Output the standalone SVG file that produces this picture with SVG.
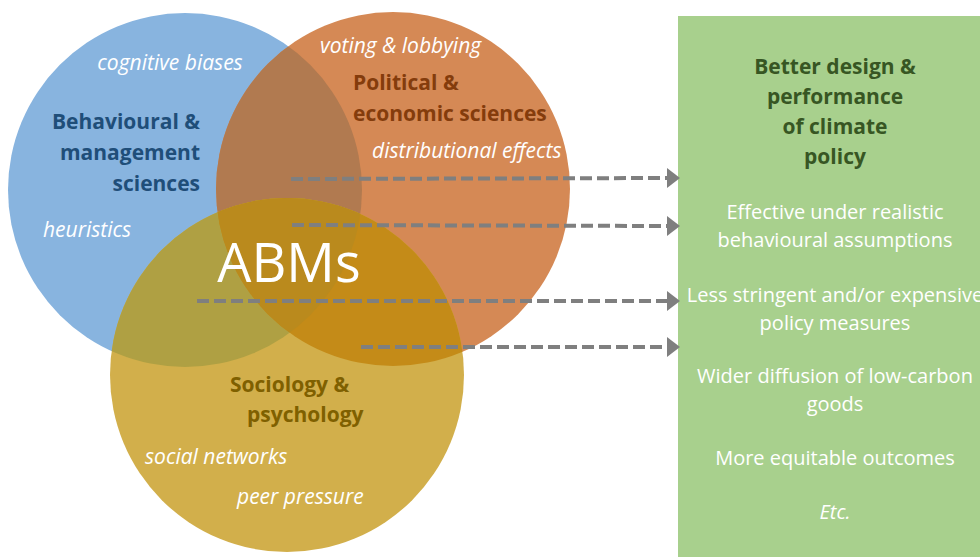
<svg xmlns="http://www.w3.org/2000/svg" width="980" height="557" viewBox="0 0 980 557">
<style>
.t{font-family:"Open Sans","Noto Sans","Liberation Sans",sans-serif}
.it{font-family:"Open Sans","Noto Sans","Liberation Sans",sans-serif;font-style:italic;fill:#ffffff;font-size:21px}
.bh{font-weight:bold;font-size:21px}
.g{font-family:"Open Sans","Noto Sans","Liberation Sans",sans-serif;fill:#ffffff;font-size:20px;text-anchor:middle}
.arrow{stroke:#7f7f7f;stroke-width:4;stroke-dasharray:12 5;fill:none}
</style>
<defs>
<clipPath id="clipB"><circle cx="185" cy="190" r="177"/></clipPath>
<clipPath id="clipO"><circle cx="393" cy="189" r="177"/></clipPath>
<marker id="ah" viewBox="0 0 13 20" refX="0" refY="10" markerWidth="13" markerHeight="20" markerUnits="userSpaceOnUse" orient="auto">
<path d="M0,0 L13,10 L0,20 z" fill="#7f7f7f"/>
</marker>
</defs>
<rect width="980" height="557" fill="#ffffff"/>

<g id="venn">
<circle cx="185" cy="190" r="177" fill="#88b4df"/>
<circle cx="393" cy="189" r="177" fill="#d58955"/>
<circle cx="393" cy="189" r="177" fill="#b17a50" clip-path="url(#clipB)"/>
<circle cx="287" cy="375" r="177" fill="#d2af4b"/>
<circle cx="287" cy="375" r="177" fill="#afa043" clip-path="url(#clipB)"/>
<circle cx="287" cy="375" r="177" fill="#c48b18" clip-path="url(#clipO)"/>
<g clip-path="url(#clipB)"><circle cx="287" cy="375" r="177" fill="#ba8a1d" clip-path="url(#clipO)"/></g>
</g>

<g id="behavioural">
<text class="it" x="170" y="70" text-anchor="middle">cognitive biases</text>
<text class="t bh" fill="#1f4e79" text-anchor="end"><tspan x="200" y="129">Behavioural &amp;</tspan><tspan x="200" y="160">management</tspan><tspan x="200" y="191">sciences</tspan></text>
<text class="it" x="43" y="237">heuristics</text>
</g>

<g id="political">
<text class="it" x="320" y="53">voting &amp; lobbying</text>
<text class="t bh" fill="#843c0c"><tspan x="353" y="90">Political &amp;</tspan><tspan x="353" y="121">economic sciences</tspan></text>
<text class="it" x="372" y="158">distributional effects</text>
</g>

<g id="sociology">
<text class="t bh" fill="#7f6000"><tspan x="230" y="392">Sociology &amp;</tspan><tspan x="247" y="422">psychology</tspan></text>
<text class="it" x="145" y="464">social networks</text>
<text class="it" x="237" y="504">peer pressure</text>
</g>

<g id="abms">
<text class="t" x="289" y="282" text-anchor="middle" fill="#ffffff" font-size="54">ABMs</text>
</g>

<g id="outcomes">
<rect x="678" y="16" width="302" height="541" fill="#a8d08d"/>
<text class="t" font-weight="bold" font-size="21" fill="#375623" text-anchor="middle"><tspan x="835" y="74">Better design &amp;</tspan><tspan x="835" y="104">performance</tspan><tspan x="835" y="134">of climate</tspan><tspan x="835" y="164">policy</tspan></text>
<text class="g"><tspan x="835" y="219">Effective under realistic</tspan><tspan x="835" y="247">behavioural assumptions</tspan></text>
<text class="g"><tspan x="835" y="302">Less stringent and/or expensive</tspan><tspan x="835" y="330">policy measures</tspan></text>
<text class="g"><tspan x="835" y="383">Wider diffusion of low-carbon</tspan><tspan x="835" y="411">goods</tspan></text>
<text class="g" x="835" y="465">More equitable outcomes</text>
<text class="g" x="835" y="519" font-style="italic">Etc.</text>
</g>

<g id="connectors">
<line class="arrow" x1="291" y1="179" x2="667" y2="178" marker-end="url(#ah)"/>
<line class="arrow" x1="292" y1="225" x2="667" y2="226" marker-end="url(#ah)"/>
<line class="arrow" x1="197" y1="301" x2="667" y2="301" marker-end="url(#ah)"/>
<line class="arrow" x1="361" y1="347" x2="667" y2="347" marker-end="url(#ah)"/>
</g>
</svg>
